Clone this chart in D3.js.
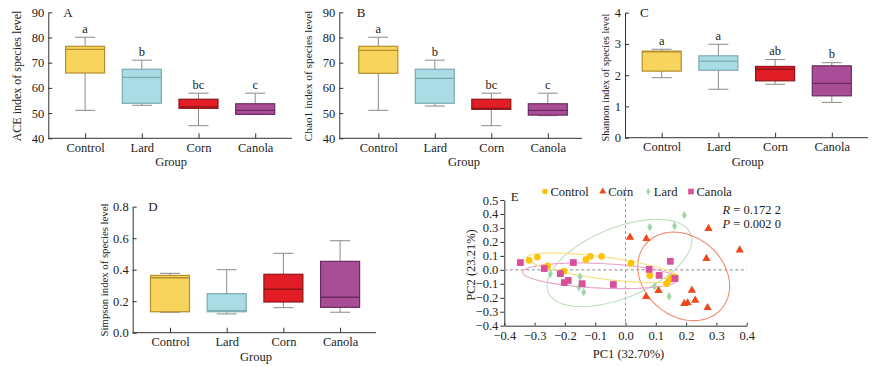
<!DOCTYPE html>
<html><head><meta charset="utf-8">
<script src="https://cdn.jsdelivr.net/npm/d3@7"></script>
<style>
body{margin:0;background:#fff;}
svg{display:block;font-family:"Liberation Serif","Times New Roman",serif;}
</style></head>
<body><svg id="c" width="879" height="367"></svg>
<script>
// ---------------- DATA ----------------
const categories = ["Control", "Lard", "Corn", "Canola"];
// box stats per category: [min, q1, median, q3, max]
const aceStats = [[51.1, 65.9, 75.3, 76.5, 80.1], [53.1, 53.9, 64.2, 67.4, 71.0], [45.0, 51.9, 52.5, 55.5, 57.9], [49.5, 49.5, 51.1, 53.7, 57.9]];
const aceLetters = ["a", "b", "bc", "c"];
const chaoStats = [[51.1, 65.8, 74.9, 76.5, 80.1], [52.8, 53.9, 63.8, 67.4, 71.0], [45.0, 51.5, 51.9, 55.5, 57.9], [49.0, 49.2, 51.1, 53.7, 57.9]];
const chaoLetters = ["a", "b", "bc", "c"];
const shannonStats = [[1.92, 2.13, 2.75, 2.77, 2.83], [1.55, 2.16, 2.45, 2.62, 2.99], [1.71, 1.82, 2.19, 2.28, 2.50], [1.13, 1.34, 1.74, 2.30, 2.40]];
const shannonLetters = ["a", "a", "ab", "b"];
const simpsonStats = [[0.130, 0.133, 0.349, 0.364, 0.377], [0.119, 0.133, 0.140, 0.248, 0.400], [0.159, 0.195, 0.276, 0.371, 0.504], [0.130, 0.161, 0.225, 0.453, 0.584]];
const simpsonLetters = ["", "", "", ""];
const aceTicks = [40, 50, 60, 70, 80, 90];
const shannonTicks = [0, 1, 2, 3, 4];
const simpsonTicks = [0, 0.2, 0.4, 0.6, 0.8];

// PCoA points [PC1, PC2]
const pcoaGroups = ["Control", "Corn", "Lard", "Canola"];
const controlPts = [[-0.318, 0.068], [-0.291, 0.091], [-0.257, 0.028], [-0.203, -0.010], [-0.131, 0.073], [-0.116, 0.097], [-0.079, 0.097], [0.018, 0.048], [0.080, -0.040], [0.136, -0.099], [0.143, -0.075], [0.151, -0.060], [0.157, -0.053]];
const cornPts = [[0.015, 0.233], [0.069, 0.223], [0.274, 0.295], [0.377, 0.142], [0.267, 0.080], [0.068, -0.192], [0.109, -0.149], [0.219, -0.147], [0.230, -0.218], [0.194, -0.242], [0.205, -0.237], [0.271, -0.271]];
const lardPts = [[0.194, 0.391], [0.080, 0.306], [0.162, 0.313], [-0.248, -0.030], [-0.150, -0.048], [-0.154, -0.125], [-0.138, -0.160], [0.096, -0.118], [0.144, -0.190]];
const canolaPts = [[-0.347, 0.052], [-0.268, 0.009], [-0.215, -0.027], [-0.202, -0.091], [-0.189, -0.076], [-0.172, 0.052], [-0.143, -0.099], [-0.040, -0.105], [0.078, 0.003], [0.111, -0.040], [0.148, 0.061], [0.163, -0.062]];
// confidence ellipses: center [x,y], conjugate semi-axes a, b (data units)
const controlEllipse = {c: [-0.0746, 0.014], a: [0.251, -0.072], b: [-0.0048, -0.078]};
const cornEllipse = {c: [0.192, -0.047], a: [0.150, -0.024], b: [-0.022, 0.316]};
const lardEllipse = {c: [-0.020, 0.049], a: [0.235, 0.209], b: [0.044, -0.232]};
const canolaEllipse = {c: [-0.0825, -0.043], a: [0.257, -0.026], b: [-0.002, -0.088]};
const pcTicksX = [-0.4, -0.3, -0.2, -0.1, 0.0, 0.1, 0.2, 0.3, 0.4];
const pcTicksY = [-0.4, -0.3, -0.2, -0.1, 0.0, 0.1, 0.2, 0.3, 0.4, 0.5];
const statR = "0.172 2";
const statP = "0.002 0";

// ---------------- STYLE ----------------
const boxFill = {Control: "#F8D45C", Lard: "#A9DCE5", Corn: "#E21D26", Canola: "#A84D96"};
const boxStroke = {Control: "#B38F2C", Lard: "#7DA9B2", Corn: "#8E1417", Canola: "#6C2A60"};
const ptColor = {Control: "#FFC20A", Corn: "#EC4A1C", Lard: "#A3D5AC", Canola: "#D9519C"};
const ellColor = {Control: "#F6E07A", Corn: "#F28A6C", Lard: "#BCE0BE", Canola: "#EAA2CF"};
const whiskerColor = "#8a8a8a";

const svg = d3.select("#c");
svg.append("rect").attr("width", 879).attr("height", 367).attr("fill", "#fff");

function boxPanel(cfg) {
  const g = svg.append("g");
  const y = d3.scaleLinear().domain(cfg.domain).range([cfg.yBottom, cfg.yTop]);
  const x = d3.scalePoint().domain(categories).range([cfg.axisX + cfg.offset, cfg.axisX + cfg.offset + 3 * cfg.step]);
  const bw = 39;
  // y axis
  const ya = g.append("g").attr("transform", `translate(${cfg.axisX},0)`)
    .call(d3.axisLeft(y).tickValues(cfg.ticks).tickFormat(cfg.fmt).tickSizeInner(-4).tickSizeOuter(0).tickPadding(4));
  ya.selectAll("text").attr("font-size", 12.5).attr("font-family", "Liberation Serif").attr("fill", "#222");
  ya.selectAll("line,path").attr("stroke", "#333");
  // x axis
  const xa = g.append("g").attr("transform", `translate(0,${cfg.yBottom})`)
    .call(d3.axisBottom(x).tickSizeInner(-5).tickSizeOuter(0));
  xa.select(".domain").remove();
  xa.selectAll("line").attr("stroke", "#333");
  xa.selectAll("text").attr("y", 13.8).attr("dy", 0).attr("font-size", 12.5).attr("font-family", "Liberation Serif").attr("fill", "#222");
  g.append("line").attr("x1", cfg.axisX).attr("x2", cfg.axisEnd).attr("y1", cfg.yBottom).attr("y2", cfg.yBottom).attr("stroke", "#333");
  // labels
  g.append("text").attr("x", (x(categories[0]) + x(categories[3])) / 2 + 1).attr("y", cfg.yBottom + 28)
    .attr("text-anchor", "middle").attr("font-size", 12.5).attr("fill", "#222").text("Group");
  const yl = g.append("text").attr("transform", `translate(${cfg.labelX},${cfg.labelY}) rotate(-90)`)
    .attr("text-anchor", "middle").attr("dominant-baseline", "central").attr("font-size", 12)
    .attr("fill", "#222").text(cfg.label);
  const natural = yl.node().getComputedTextLength();
  yl.attr("font-size", Math.min(12.5, 12 * cfg.labelLen / natural));
  g.append("text").attr("x", cfg.axisX + cfg.letterDx).attr("y", cfg.yTop + 4.5).attr("font-size", 13).attr("fill", "#222").text(cfg.panel);
  // boxes
  cfg.stats.forEach((s, i) => {
    const c = categories[i], cx = x(c);
    const [mn, q1, md, q3, mx] = s;
    const wg = g.append("g").attr("stroke", whiskerColor).attr("stroke-width", 1);
    wg.append("line").attr("x1", cx).attr("x2", cx).attr("y1", y(q3)).attr("y2", y(mx));
    wg.append("line").attr("x1", cx).attr("x2", cx).attr("y1", y(q1)).attr("y2", y(mn));
    wg.append("line").attr("x1", cx - 10).attr("x2", cx + 10).attr("y1", y(mx)).attr("y2", y(mx));
    wg.append("line").attr("x1", cx - 10).attr("x2", cx + 10).attr("y1", y(mn)).attr("y2", y(mn));
    g.append("rect").attr("x", cx - bw / 2).attr("width", bw).attr("y", y(q3)).attr("height", Math.max(1, y(q1) - y(q3)))
      .attr("fill", boxFill[c]).attr("stroke", boxStroke[c]).attr("stroke-width", 1.2);
    g.append("line").attr("x1", cx - bw / 2).attr("x2", cx + bw / 2).attr("y1", y(md)).attr("y2", y(md))
      .attr("stroke", boxStroke[c]).attr("stroke-width", 1.3);
    if (cfg.letters[i]) {
      g.append("text").attr("x", cx).attr("y", y(mx) - 4.5).attr("text-anchor", "middle")
        .attr("font-size", 12.5).attr("fill", "#222").text(cfg.letters[i]);
    }
  });
}

boxPanel({panel: "A", stats: aceStats, letters: aceLetters, domain: [40, 90], ticks: aceTicks, fmt: d3.format("d"),
  axisX: 48.3, axisEnd: 292, offset: 36.8, step: 56.7, yTop: 12.3, yBottom: 138.3,
  label: "ACE index of species level", labelX: 17, labelY: 76, labelLen: 131, letterDx: 15});
boxPanel({panel: "B", stats: chaoStats, letters: chaoLetters, domain: [40, 90], ticks: aceTicks, fmt: d3.format("d"),
  axisX: 339.3, axisEnd: 582, offset: 39, step: 56.5, yTop: 12.3, yBottom: 138.3,
  label: "Chao1 index of species level", labelX: 307.5, labelY: 76, labelLen: 131, letterDx: 17.5});
boxPanel({panel: "C", stats: shannonStats, letters: shannonLetters, domain: [0, 4], ticks: shannonTicks, fmt: d3.format("d"),
  axisX: 625, axisEnd: 868, offset: 36.7, step: 56.7, yTop: 12.7, yBottom: 137.7,
  label: "Shannon index of species level", labelX: 605, labelY: 77.5, labelLen: 128, letterDx: 15});
boxPanel({panel: "D", stats: simpsonStats, letters: simpsonLetters, domain: [0, 0.8], ticks: simpsonTicks, fmt: d3.format(".1f"),
  axisX: 132.7, axisEnd: 376, offset: 37.3, step: 56.7, yTop: 206.7, yBottom: 332.7,
  label: "Simpson index of species level", labelX: 103.5, labelY: 270, labelLen: 133, letterDx: 15.5});

// ---------------- PANEL E ----------------
(function () {
  const g = svg.append("g");
  const x = d3.scaleLinear().domain([-0.4, 0.4]).range([504.3, 746.7]);
  const y = d3.scaleLinear().domain([-0.4, 0.5]).range([325.7, 200]);
  const fmt = d3.format(".1f");
  const ya = g.append("g").attr("transform", `translate(${x(-0.4)},0)`)
    .call(d3.axisLeft(y).tickValues(pcTicksY).tickFormat(fmt).tickSizeInner(4).tickSizeOuter(0).tickPadding(2));
  const xa = g.append("g").attr("transform", `translate(0,${y(-0.4)})`)
    .call(d3.axisBottom(x).tickValues(pcTicksX).tickFormat(fmt).tickSizeInner(-3).tickSizeOuter(0));
  [ya, xa].forEach(a => {
    a.selectAll("line,path").attr("stroke", "#333");
    a.selectAll("text").attr("font-size", 12.5).attr("font-family", "Liberation Serif").attr("fill", "#222");
  });
  xa.selectAll("text").attr("y", 14).attr("dy", 0);
  // zero lines
  g.append("line").attr("x1", x(-0.4)).attr("x2", x(0.4)).attr("y1", y(0)).attr("y2", y(0))
    .attr("stroke", "#a0a0a0").attr("stroke-width", 1.2).attr("stroke-dasharray", "3,2.5");
  g.append("line").attr("x1", x(0)).attr("x2", x(0)).attr("y1", 187).attr("y2", y(-0.4))
    .attr("stroke", "#a0a0a0").attr("stroke-width", 1).attr("stroke-dasharray", "3,2.5");
  // ellipses
  const ellipses = {Control: controlEllipse, Corn: cornEllipse, Lard: lardEllipse, Canola: canolaEllipse};
  const line = d3.line().x(d => x(d[0])).y(d => y(d[1])).curve(d3.curveLinearClosed);
  ["Lard", "Corn", "Canola", "Control"].forEach(k => {
    const e = ellipses[k];
    const pts = d3.range(0, 120).map(i => {
      const t = i / 120 * 2 * Math.PI;
      return [e.c[0] + e.a[0] * Math.cos(t) + e.b[0] * Math.sin(t), e.c[1] + e.a[1] * Math.cos(t) + e.b[1] * Math.sin(t)];
    });
    g.append("path").attr("d", line(pts)).attr("fill", "none").attr("stroke", ellColor[k]).attr("stroke-width", 1.1);
  });
  // points
  const sym = {Control: d3.symbolCircle, Corn: d3.symbolTriangle, Lard: d3.symbolDiamond, Canola: d3.symbolSquare};
  const size = {Control: 36, Corn: 30, Lard: 22, Canola: 46};
  const data = {Control: controlPts, Corn: cornPts, Lard: lardPts, Canola: canolaPts};
  ["Lard", "Corn", "Control", "Canola"].forEach(k => {
    g.selectAll(null).data(data[k]).enter().append("path")
      .attr("d", d3.symbol().type(sym[k]).size(size[k]))
      .attr("transform", d => `translate(${x(d[0])},${y(d[1])})`)
      .attr("fill", ptColor[k]);
  });
  // legend
  const legX = [545, 602.7, 648.3, 691];
  pcoaGroups.forEach((k, i) => {
    g.append("path").attr("d", d3.symbol().type(sym[k]).size(size[k] * 0.7))
      .attr("transform", `translate(${legX[i]},191.5)`).attr("fill", ptColor[k]);
    g.append("text").attr("x", legX[i] + 5.5).attr("y", 196).attr("font-size", 12.5).attr("fill", "#222").text(k);
  });
  // labels
  g.append("text").attr("x", 510.7).attr("y", 200.7).attr("font-size", 13).attr("fill", "#222").text("E");
  g.append("text").attr("x", (x(-0.4) + x(0.4)) / 2 + 3).attr("y", 358).attr("text-anchor", "middle")
    .attr("font-size", 12.5).attr("fill", "#222").text("PC1 (32.70%)");
  g.append("text").attr("transform", `translate(471,265) rotate(-90)`).attr("text-anchor", "middle")
    .attr("dominant-baseline", "central").attr("font-size", 12.5).attr("fill", "#222").text("PC2 (23.21%)");
  const tR = g.append("text").attr("x", 722.5).attr("y", 214).attr("font-size", 12.5).attr("fill", "#222");
  tR.append("tspan").attr("font-style", "italic").text("R");
  tR.append("tspan").text(" = " + statR);
  const tP = g.append("text").attr("x", 722.5).attr("y", 228).attr("font-size", 12.5).attr("fill", "#222");
  tP.append("tspan").attr("font-style", "italic").text("P");
  tP.append("tspan").text(" = " + statP);
})();
</script></body></html>
